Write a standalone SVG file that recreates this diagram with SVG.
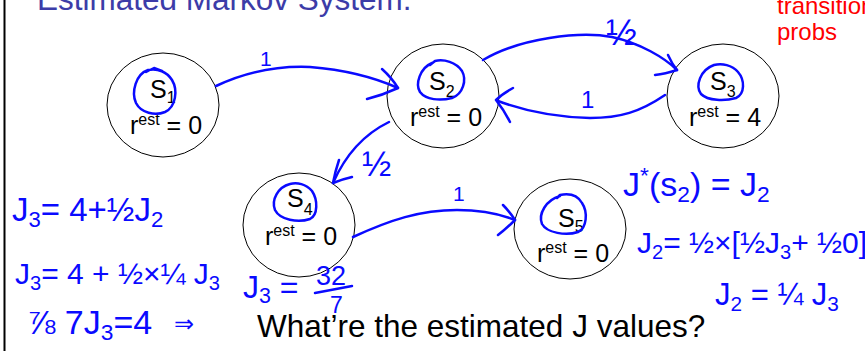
<svg xmlns="http://www.w3.org/2000/svg" width="865" height="351" viewBox="0 0 865 351">
<style>
.node{fill:#fff;stroke:#000;stroke-width:1}
.lbl{font-family:"Liberation Sans",Arial,sans-serif;font-size:25px;fill:#000}
.sm{font-size:16px}
.ink{fill:none;stroke:#0a0aff;stroke-width:2.5;stroke-linecap:round;stroke-linejoin:round}
.hw{font-family:"Liberation Sans",Arial,sans-serif;fill:#0a0aff}
.sb{font-size:0.67em}
</style>
<rect width="865" height="351" fill="#fff"/>
<line x1="4.5" y1="0" x2="4.5" y2="351" stroke="#000" stroke-width="2"/>
<text x="37" y="10" font-family="Liberation Sans, Arial, sans-serif" font-size="31.5" fill="#3c3ca8">Estimated Markov System:</text>
<text font-family="Liberation Sans, Arial, sans-serif" font-size="24" fill="#ff0000"><tspan x="777" y="14">transition</tspan><tspan x="777" y="40">probs</tspan></text>

<g id="S1">
<ellipse class="node" cx="163" cy="105" rx="56" ry="52"/>
<text class="lbl" x="150" y="98">S<tspan class="sm" dy="5">1</tspan></text>
<text class="lbl" x="130" y="134">r<tspan class="sm" dy="-9">est</tspan><tspan dy="9"> = 0</tspan></text>
</g>
<g id="S2">
<ellipse class="node" cx="443" cy="96" rx="56" ry="52"/>
<text class="lbl" x="429" y="90">S<tspan class="sm" dy="7">2</tspan></text>
<text class="lbl" x="410" y="126">r<tspan class="sm" dy="-9">est</tspan><tspan dy="9"> = 0</tspan></text>
</g>
<g id="S3">
<ellipse class="node" cx="723" cy="96" rx="56" ry="52"/>
<text class="lbl" x="710" y="90">S<tspan class="sm" dy="7">3</tspan></text>
<text class="lbl" x="689" y="126">r<tspan class="sm" dy="-9">est</tspan><tspan dy="9"> = 4</tspan></text>
</g>
<g id="S4">
<ellipse class="node" cx="299" cy="225" rx="56" ry="52"/>
<text class="lbl" x="287" y="207">S<tspan class="sm" dy="8">4</tspan></text>
<text class="lbl" x="265" y="245">r<tspan class="sm" dy="-9">est</tspan><tspan dy="9"> = 0</tspan></text>
</g>
<g id="S5">
<ellipse class="node" cx="570" cy="229" rx="56" ry="50"/>
<text class="lbl" x="558" y="227">S<tspan class="sm" dy="5">5</tspan></text>
<text class="lbl" x="537" y="262">r<tspan class="sm" dy="-9">est</tspan><tspan dy="9"> = 0</tspan></text>
</g>

<g id="connectors">
<path class="ink" d="M216,86 Q260,65 310,67 Q360,71 398,88"/>
<path class="ink" d="M382,69 Q392,78 398,88 Q383,95 367,99"/>
<path class="ink" d="M483,60 C520,38 580,31 612,37 C640,43 665,58 677,70"/>
<path class="ink" d="M668,55 Q672,64 677,70 Q665,74 655,75"/>
<path class="ink" d="M665,95 C640,112 620,118 590,118 C552,117 522,110 498,101"/>
<path class="ink" d="M513,88 Q502,94 496,100 Q504,110 510,122"/>
<path class="ink" d="M389,122 Q352,140 333,183"/>
<path class="ink" d="M339,160 Q335,172 333,183 Q343,179 352,177"/>
<path class="ink" d="M353,237 C390,220 420,210 457,210 C480,210 500,214 515,220"/>
<path class="ink" d="M503,205 Q510,212 515,220 Q506,229 498,235"/>
</g>

<g id="edge-labels" class="hw">
<text x="260" y="66" font-size="21">1</text>
<text x="606" y="45" font-size="37">½</text>
<text x="581" y="108" font-size="24">1</text>
<text x="362" y="176" font-size="35">½</text>
<text x="453" y="201" font-size="21">1</text>
</g>

<g id="marks">
<path class="ink" d="M148,70 C136,74 131,92 136,103 C141,113 155,116 165,112 C176,107 178,90 172,80 C167,72 158,68 148,70 M146,72 L154,68 L162,71"/>
<path class="ink" d="M432,63 C420,68 415,84 420,92 C426,100 440,101 452,98 C463,94 467,80 462,71 C456,62 444,59 435,61 L430,65"/>
<path class="ink" d="M714,65 C700,70 695,86 701,94 C708,101 725,101 736,98 C745,94 745,80 738,72 C732,65 722,63 714,65"/>
<path class="ink" d="M290,184 C278,187 271,200 275,210 C280,220 298,223 310,219 C318,215 318,200 312,191 C306,184 297,182 290,184"/>
<path class="ink" d="M560,196 C546,200 538,214 542,224 C547,233 566,236 578,232 C587,228 588,212 582,203 C578,196 570,193 560,195 L557,198"/>
</g>

<g id="equations" class="hw">
<text x="12" y="221" font-size="33">J<tspan class="sb" dy="6">3</tspan><tspan dy="-6">= 4+½J</tspan><tspan class="sb" dy="6">2</tspan></text>
<text x="15" y="284" font-size="30">J<tspan class="sb" dy="6">3</tspan><tspan dy="-6">= 4 + ½×¼ J</tspan><tspan class="sb" dy="6">3</tspan></text>
<text x="27" y="334" font-size="34">⅞ 7J<tspan class="sb" dy="6">3</tspan><tspan dy="-6">=4</tspan></text>
<text x="174" y="332" font-size="24" font-family="DejaVu Sans, sans-serif">⇒</text>
<text x="243" y="298" font-size="32">J<tspan class="sb" dy="5">3</tspan><tspan dy="-5"> =</tspan></text>
<text x="316" y="285" font-size="27">32</text>
<path class="ink" d="M315,293 L352,286"/>
<text x="330" y="313" font-size="23">7</text>
<text x="623" y="196" font-size="34">J<tspan class="sb" dy="-13">*</tspan><tspan dy="13">(s</tspan><tspan class="sb" dy="6">2</tspan><tspan dy="-6">) = J</tspan><tspan class="sb" dy="6">2</tspan></text>
<text x="637" y="253" font-size="30">J<tspan class="sb" dy="6">2</tspan><tspan dy="-6">= ½×[½J</tspan><tspan class="sb" dy="6">3</tspan><tspan dy="-6">+ ½0]</tspan></text>
<text x="715" y="305" font-size="31">J<tspan class="sb" dy="6">2</tspan><tspan dy="-6"> = ¼ J</tspan><tspan class="sb" dy="6">3</tspan></text>
</g>

<text x="257" y="337" font-family="Liberation Sans, Arial, sans-serif" font-size="31.5" fill="#000">What’re the estimated J values?</text>
</svg>
